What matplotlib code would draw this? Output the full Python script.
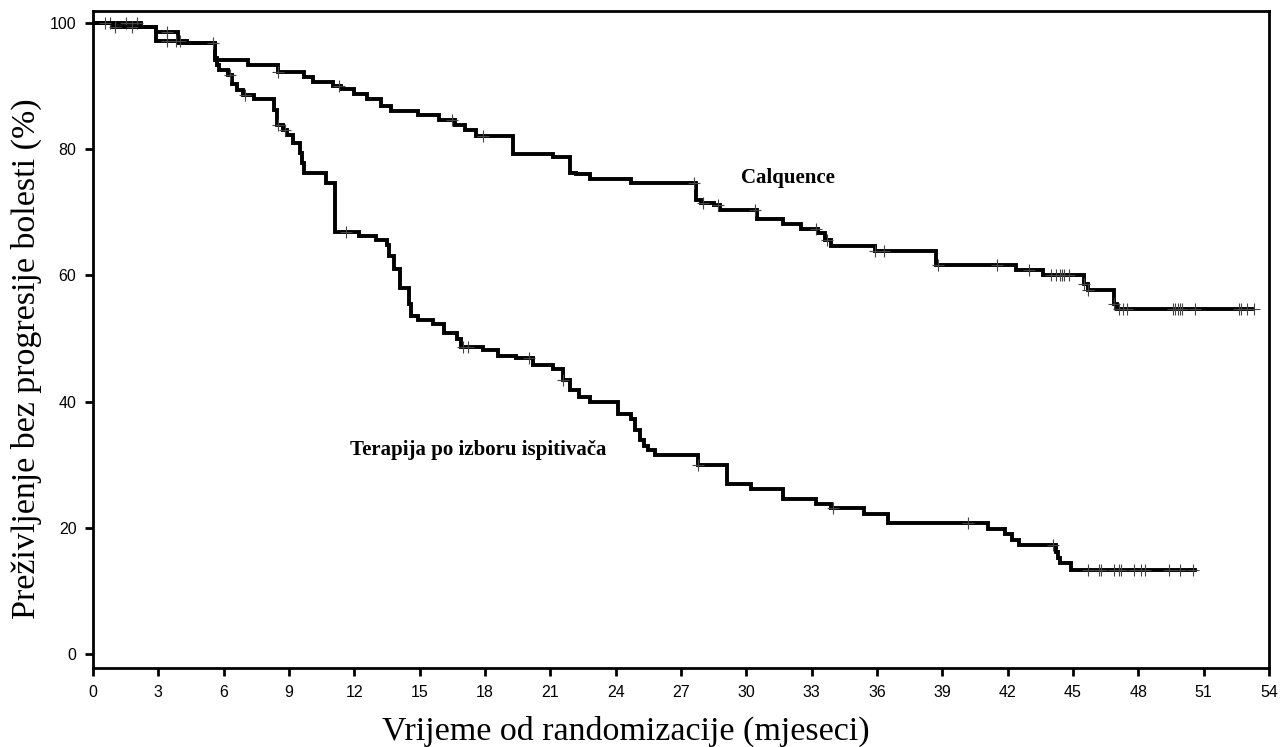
import numpy as np
import matplotlib.pyplot as plt

# Calquence: event times (months) and survival (%) after each step
calq_t = [0, 2.2, 2.9, 3.9, 5.6, 7.1, 8.5, 9.7, 10.1, 11.0, 11.4, 12.0, 12.6, 13.2, 13.7,
          14.9, 15.9, 16.6, 17.1, 17.6, 19.3, 21.1, 21.9, 22.2, 22.8, 24.7, 27.7, 27.9,
          28.5, 28.8, 30.5, 31.7, 32.5, 33.3, 33.6, 33.9, 34.8, 35.9, 38.7, 42.4, 43.6,
          45.5, 45.7, 46.9, 47.0]
calq_s = [100, 99.4, 98.5, 96.8, 94.1, 93.4, 92.3, 91.5, 90.7, 90.0, 89.5, 88.7, 87.9, 86.8, 86.1,
          85.4, 84.7, 83.8, 83.0, 82.1, 79.3, 78.8, 76.2, 76.0, 75.3, 74.6, 72.0, 71.5,
          71.1, 70.3, 69.0, 68.2, 67.4, 66.7, 65.6, 64.6, 64.6, 63.9, 61.7, 60.9, 60.1,
          58.7, 57.7, 55.5, 54.7]
calq_end = 53.2
calq_cens = [0.8, 1.5, 2.0, 3.4, 8.5, 11.3, 16.5, 17.9, 27.6, 28.0, 28.7, 30.4, 33.2, 33.7,
             35.9, 36.3, 38.8, 41.5, 43.0, 44.0, 44.2, 44.4, 44.5, 44.6, 44.8, 45.5, 45.7,
             46.9, 47.1, 47.3, 47.5, 49.6, 49.7, 49.8, 49.9, 50.0, 50.6, 52.6, 52.7, 53.0, 53.3]

# Terapija po izboru ispitivaca
ter_t = [0, 0.9, 2.9, 4.3, 5.6, 5.7, 5.8, 6.2, 6.4, 6.6, 6.9, 7.4, 8.3, 8.45, 8.7, 8.9, 9.2,
         9.5, 9.6, 9.7, 10.7, 11.1, 12.2, 13.0, 13.5, 13.6, 13.8, 14.1, 14.5, 14.6, 14.9,
         15.6, 16.1, 16.7, 16.9, 17.9, 18.6, 19.4, 20.2, 21.1, 21.6, 21.9, 22.3, 22.8,
         24.1, 24.7, 24.9, 25.1, 25.3, 25.5, 25.8, 27.8, 29.1, 30.2, 31.7, 33.2, 33.9,
         35.4, 36.5, 41.1, 41.9, 42.2, 42.5, 44.2, 44.3, 44.4, 44.9]
ter_s = [100, 99.4, 97.2, 96.8, 94.4, 93.3, 92.5, 91.8, 90.4, 89.4, 88.6, 87.9, 86.2, 83.8,
         83.0, 82.3, 81.0, 79.4, 77.8, 76.2, 74.6, 66.9, 66.3, 65.6, 64.8, 63.0, 61.0, 58.0,
         55.5, 53.5, 52.9, 52.3, 50.8, 50.0, 48.7, 48.2, 47.2, 46.9, 45.8, 45.1, 43.4, 41.8,
         40.8, 39.9, 38.1, 37.3, 35.5, 33.9, 32.9, 32.3, 31.5, 30.0, 26.9, 26.1, 24.6,
         23.8, 23.1, 22.2, 20.7, 19.8, 19.1, 18.1, 17.3, 16.2, 15.3, 14.5, 13.4]
ter_end = 50.6
ter_cens = [0.55, 1.0, 1.8, 3.4, 3.8, 4.0, 5.5, 6.3, 7.0, 8.5, 8.8, 11.6, 17.0, 17.2, 20.0,
            21.6, 27.8, 34.0, 40.2, 44.1, 45.7, 46.2, 46.3, 46.9, 47.1, 47.2, 47.8, 48.1,
            48.3, 49.4, 49.9, 50.5]

x_ticks = np.arange(0, 55, 3)
y_ticks = [0, 20, 40, 60, 80, 100]


def step_value(t, s, at):
    idx = np.searchsorted(t, at, side='right') - 1
    return np.array(s)[idx]


fig = plt.figure(figsize=(12.8, 7.47), dpi=100)
ax = fig.add_axes([0.0727, 0.1058, 0.9187, 0.8795])

for t, s, end, cens in [(calq_t, calq_s, calq_end, calq_cens),
                        (ter_t, ter_s, ter_end, ter_cens)]:
    tt = list(t) + [end]
    ss = list(s) + [s[-1]]
    ax.step(tt, ss, where='post', color='black', lw=2.8, solid_joinstyle='miter')
    ax.plot(cens, step_value(t, s, cens), linestyle='none', marker='+',
            markersize=9, mew=0.8, color='#444444')

ax.text(31.9, 75.4, 'Calquence', family='Liberation Serif', fontweight='bold',
        fontsize=15, ha='center', va='center')
ax.text(17.7, 32.4, 'Terapija po izboru ispitivača', family='Liberation Serif',
        fontweight='bold', fontsize=15, ha='center', va='center')

ax.set_xlim(0, 54)
ax.set_ylim(-2.2, 101.9)
ax.set_xticks(x_ticks)
ax.set_yticks(y_ticks)
ax.tick_params(direction='out', length=6, width=2, labelsize=11.5, pad=6)
for lab in ax.get_xticklabels() + ax.get_yticklabels():
    lab.set_family('Liberation Sans')
for sp in ax.spines.values():
    sp.set_linewidth(2)

ax.set_xlabel('Vrijeme od randomizacije (mjeseci)', family='Liberation Serif',
              fontsize=24.5)
ax.set_ylabel('Preživljenje bez progresije bolesti (%)', family='Liberation Serif',
              fontsize=24.5)
ax.xaxis.set_label_coords(0.453, -0.072)
ax.yaxis.set_label_coords(-0.043, 0.47)

fig.savefig('out.png', dpi=100)
